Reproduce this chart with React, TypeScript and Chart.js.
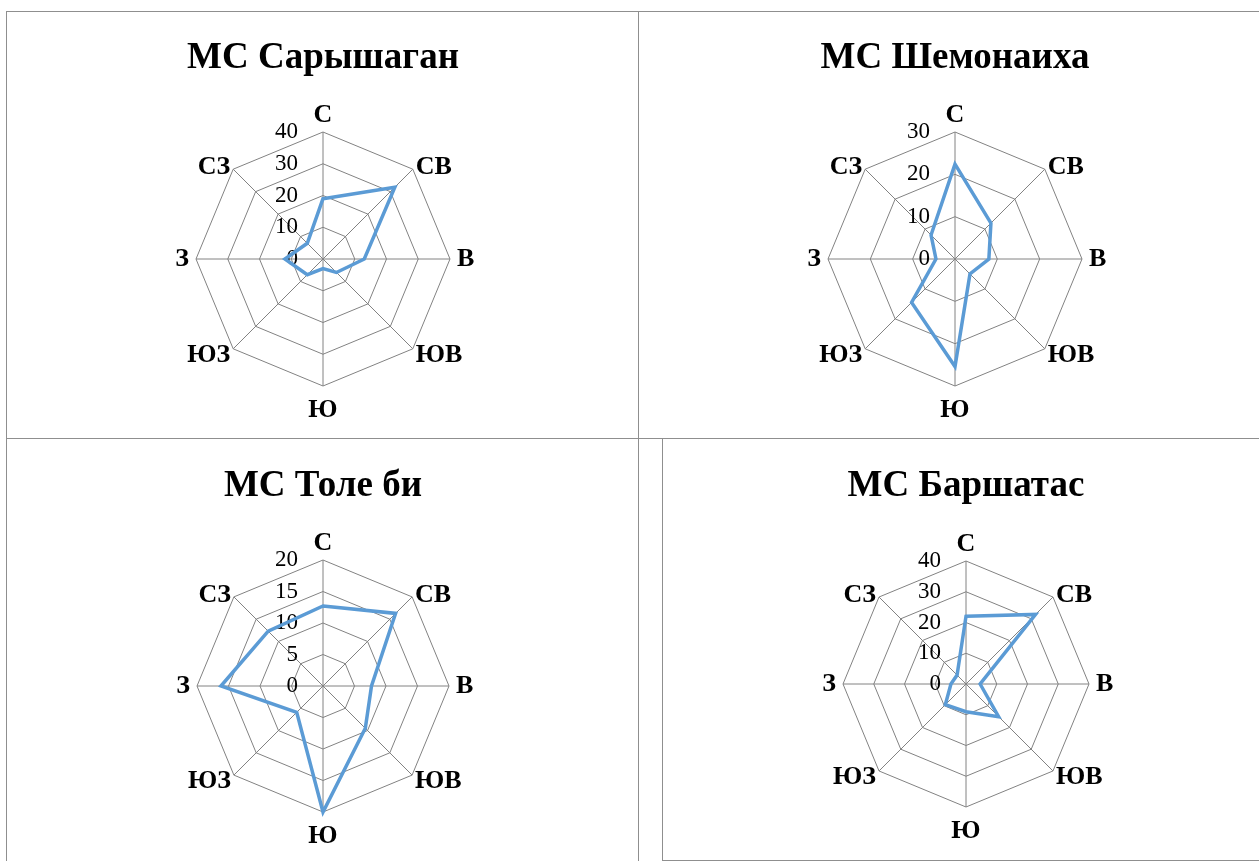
import React, { useEffect, useRef } from 'react';
import { Chart, registerables } from 'chart.js';

Chart.register(...registerables);

// ---- data ----
const directions = ['С', 'СВ', 'В', 'ЮВ', 'Ю', 'ЮЗ', 'З', 'СЗ'];
const saryshaganValues = [19, 32, 13, 6, 3, 7, 12, 7];
const shemonaikhaValues = [22.4, 12, 8, 5, 25.4, 14.5, 4.5, 8];
const toleBiValues = [12.7, 16.3, 7.7, 9.5, 20, 5.9, 16.2, 12.3];
const barshatasValues = [22, 32, 4.6, 15, 9, 9.5, 4.9, 4.1];
const titles = ['МС Сарышаган', 'МС Шемонаиха', 'МС Толе би', 'МС Баршатас'];
const scaleMax = [40, 30, 20, 40];
const scaleStep = [10, 10, 5, 10];

// ---- layout ----
const panels = [
  { values: saryshaganValues, box: { left: 7, top: 12, width: 631, height: 426 }, cx: 323, cy: 259, r: 127, titleBase: 68 },
  { values: shemonaikhaValues, box: { left: 639, top: 12, width: 620, height: 426 }, cx: 955, cy: 259, r: 127, titleBase: 68 },
  { values: toleBiValues, box: { left: 7, top: 439, width: 631, height: 422 }, cx: 323, cy: 686, r: 126, titleBase: 496 },
  { values: barshatasValues, box: { left: 663, top: 439, width: 596, height: 421 }, cx: 966, cy: 684, r: 123, titleBase: 496 },
];

const SERIF = '"Liberation Serif", "Times New Roman", serif';
const GRID = '#828282';
const BORDER = '#8f8f8f';

const tickPlugin = {
  id: 'excelTicks',
  beforeDatasetsDraw(chart: any) {
    const s = chart.scales.r;
    const ctx = chart.ctx;
    ctx.save();
    ctx.fillStyle = '#000';
    ctx.font = `23px ${SERIF}`;
    ctx.textAlign = 'right';
    ctx.textBaseline = 'middle';
    s.ticks.forEach((t: any) => {
      const d = s.getDistanceFromCenterForValue(t.value);
      ctx.fillText(String(t.label), s.xCenter - 25, s.yCenter - d);
    });
    ctx.restore();
  },
  afterDraw(chart: any) {
    const s = chart.scales.r;
    const ctx = chart.ctx;
    const R = s.drawingArea;
    ctx.save();
    ctx.fillStyle = '#000';
    ctx.font = `bold 26px ${SERIF}`;
    (chart.data.labels as string[]).forEach((lab, i) => {
      const a = s.getIndexAngle(i);
      const sn = Math.sin(a);
      const cs = Math.cos(a);
      const p = s.getPointPosition(i, R);
      let x = p.x;
      let y = p.y;
      if (Math.abs(sn) < 0.01) {
        ctx.textAlign = 'center';
        ctx.textBaseline = 'alphabetic';
        y = cs > 0 ? p.y - 10 : p.y + 31;
      } else {
        ctx.textAlign = sn > 0 ? 'left' : 'right';
        ctx.textBaseline = 'middle';
        const side = Math.abs(sn) > 0.99 ? 7 : 3;
        x = p.x + Math.sign(sn) * side;
        y = p.y + (cs > 0.1 ? -2 : cs < -0.1 ? 6 : 0);
      }
      ctx.fillText(String(lab), x, y);
    });
    ctx.restore();
  },
};

function RadarPanel({ idx }: { idx: number }) {
  const ref = useRef<HTMLCanvasElement>(null);
  const p = panels[idx];
  useEffect(() => {
    const canvas = ref.current!;
    const { box, cx, cy, r } = p;
    const chart = new Chart(canvas, {
      type: 'radar',
      data: {
        labels: directions,
        datasets: [
          {
            data: p.values,
            borderColor: '#5B9BD5',
            backgroundColor: 'transparent',
            borderWidth: 3.5,
            pointRadius: 0,
            pointHoverRadius: 0,
            fill: false,
            tension: 0,
            clip: false as any,
          },
        ],
      },
      options: {
        responsive: false,
        animation: false,
        devicePixelRatio: 1,
        events: [],
        layout: {
          padding: {
            left: cx - r - box.left,
            top: cy - r - box.top,
            right: box.left + box.width - (cx + r),
            bottom: box.top + box.height - (cy + r),
          },
        },
        plugins: {
          legend: { display: false },
          title: { display: false },
          tooltip: { enabled: false },
        },
        scales: {
          r: {
            min: 0,
            max: scaleMax[idx],
            ticks: { stepSize: scaleStep[idx], display: false },
            grid: { circular: false, color: GRID, lineWidth: 1 },
            angleLines: { display: true, color: GRID, lineWidth: 1 },
            pointLabels: { display: false },
          },
        },
      } as any,
      plugins: [tickPlugin],
    });
    return () => chart.destroy();
  }, []);
  return (
    <canvas
      ref={ref}
      width={p.box.width}
      height={p.box.height}
      style={{ position: 'absolute', left: p.box.left, top: p.box.top, width: p.box.width, height: p.box.height }}
    />
  );
}

const line = (left: number, top: number, width: number, height: number) => (
  <div style={{ position: 'absolute', left, top, width, height, background: BORDER }} />
);

export default function App() {
  const titleSize = 37;
  return (
    <div style={{ position: 'absolute', left: 0, top: 0, width: 1259, height: 861, overflow: 'hidden', background: '#fff' }}>
      {panels.map((p, i) => (
        <RadarPanel key={i} idx={i} />
      ))}
      {panels.map((p, i) => (
        <div
          key={'t' + i}
          style={{
            position: 'absolute',
            left: p.cx - 300,
            width: 600,
            top: p.titleBase - Math.round(0.8375 * titleSize),
            textAlign: 'center',
            fontFamily: SERIF,
            fontWeight: 'bold',
            fontSize: titleSize,
            lineHeight: `${titleSize}px`,
            color: '#000',
            whiteSpace: 'nowrap',
          }}
        >
          {titles[i]}
        </div>
      ))}
      {line(6, 11, 1253, 1)}
      {line(6, 11, 1, 850)}
      {line(638, 11, 1, 850)}
      {line(6, 438, 1253, 1)}
      {line(662, 438, 1, 423)}
      {line(662, 860, 597, 1)}
    </div>
  );
}
